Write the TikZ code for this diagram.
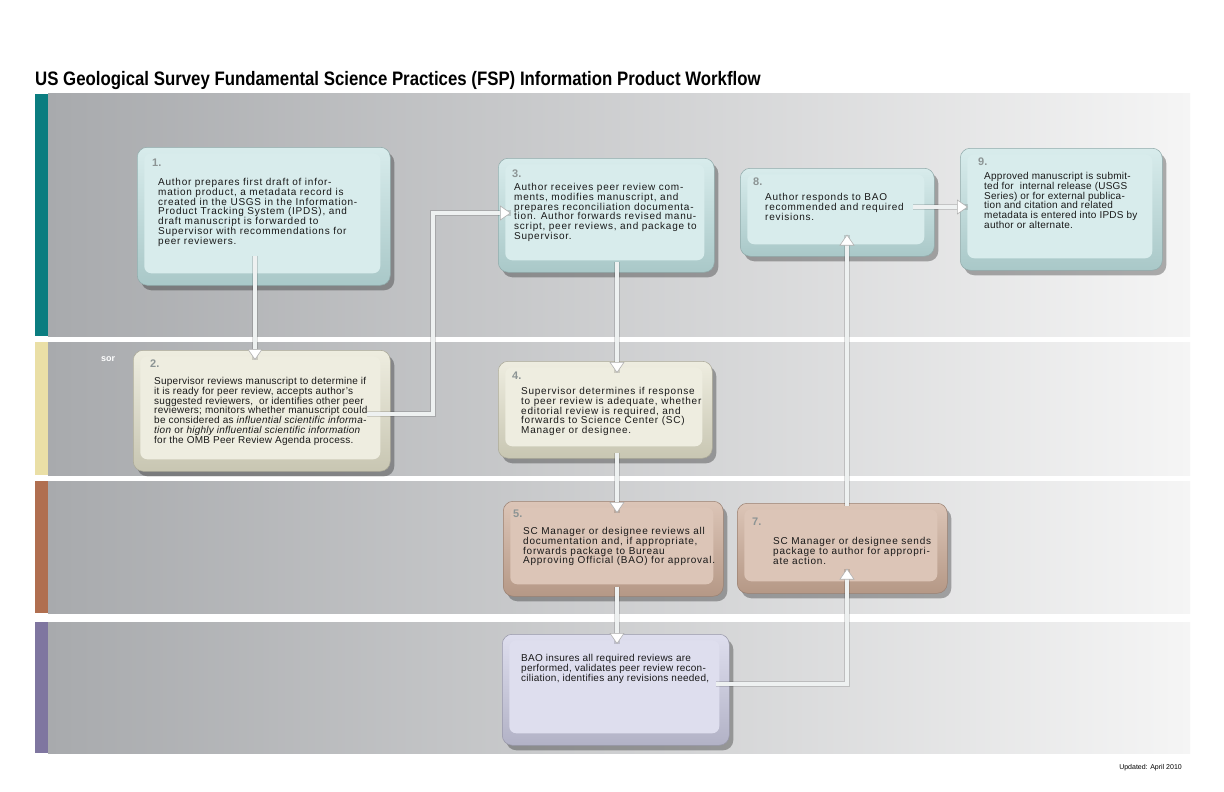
\documentclass[tikz,border=0pt]{standalone}
\usepackage{fontspec}
\setmainfont{Liberation Sans}
\newfontfamily\titlefont[FakeStretch=0.862]{Liberation Sans}
\newfontfamily\bodyfont[LetterSpace=7.5]{Liberation Sans}
\newfontfamily\bodyfontb[LetterSpace=2.5]{Liberation Sans}
\newcommand\fspbodyA{\bodyfont\fontsize{10}{9.8}\selectfont\lineskiplimit=-6pt\relax}
\newcommand\fspbodyB{\bodyfontb\fontsize{10}{9.8}\selectfont\lineskiplimit=-6pt\relax}
\usetikzlibrary{arrows.meta,shadows,calc}
\definecolor{laneL}{HTML}{A8AAAD}
\definecolor{laneM}{HTML}{CACBCE}
\definecolor{laneR}{HTML}{F5F5F5}
\definecolor{barA}{HTML}{0B7D80}
\definecolor{barB}{HTML}{EADFA6}
\definecolor{barC}{HTML}{B06F50}
\definecolor{barD}{HTML}{7F76A0}
\definecolor{aqF}{HTML}{D8ECEC}
\definecolor{aqE}{HTML}{A9C8C8}
\definecolor{crF}{HTML}{EEEDE0}
\definecolor{crE}{HTML}{C8C6B2}
\definecolor{brF}{HTML}{DCC5B7}
\definecolor{brE}{HTML}{B59886}
\definecolor{lvF}{HTML}{DEDEEE}
\definecolor{lvE}{HTML}{B2B2C6}
\definecolor{numC}{HTML}{8C9494}
\definecolor{connC}{HTML}{EEF1F1}
\tikzset{
  fspbox/.style={rectangle, rounded corners=10pt, anchor=north west, inner sep=0pt,
    top color=#1F, bottom color=#1E, draw=#1E!85!black, line width=0.5pt,
    drop shadow={shadow xshift=4pt, shadow yshift=-5pt, opacity=0.3, fill=black},
    path picture={\fill[#1F, rounded corners=7pt]
      ([shift={(7pt,-6pt)}]path picture bounding box.north west) rectangle
      ([shift={(-10pt,12pt)}]path picture bounding box.south east);}},
  numlab/.style={anchor=north west, inner sep=0pt, text=numC, font=\bfseries\fontsize{11}{12}\selectfont},
  body/.style={anchor=north west, inner sep=0pt, align=left, text=black!90, font=\fspbodyA},
  bodyb/.style={anchor=north west, inner sep=0pt, align=left, text=black!90, font=\fspbodyB},
  conn/.style={draw=connC, line width=4pt,
    -{Triangle[width=15pt,length=11pt,line width=0.6pt,color=black!30,fill=white]},
    preaction={draw=black, opacity=0.14, line width=5.6pt, -}},
}
\begin{document}
\begin{tikzpicture}[x=1pt,y=-1pt]
\useasboundingbox (0,0) rectangle (1224,792);
\fill[white] (0,0) rectangle (1224,792);
% lanes
\shade[left color=laneL, middle color=laneM, right color=laneR] (48,94) rectangle (1190,336);
\shade[left color=laneL, middle color=laneM, right color=laneR] (48,342) rectangle (1190,475);
\shade[left color=laneL, middle color=laneM, right color=laneR] (48,481) rectangle (1190,613);
\shade[left color=laneL, middle color=laneM, right color=laneR] (48,622) rectangle (1190,753);
\fill[barA] (35,94) rectangle (48,336);
\fill[barB] (35,342) rectangle (48,475);
\fill[barC] (35,481) rectangle (48,613);
\fill[barD] (35,622) rectangle (48,753);
% title
\node[anchor=base west, inner sep=0pt, font=\titlefont\bfseries\fontsize{19.5}{21}\selectfont] (title) at (35,85)
  {US Geological Survey Fundamental Science Practices (FSP) Information Product Workflow};
\node[anchor=base west, inner sep=0pt, text=white, font=\bfseries\fontsize{9}{10}\selectfont] (sor) at (101,361) {sor};
\node[anchor=base east, inner sep=0pt, font=\fontsize{7}{8}\selectfont] (upd) at (1182,769) {Updated: April 2010};
% boxes
\node[fspbox=aq, minimum width=253pt, minimum height=138pt] (b1) at (137,147) {};
\node[fspbox=cr, minimum width=257pt, minimum height=121pt] (b2) at (133,350) {};
\node[fspbox=aq, minimum width=216pt, minimum height=114pt] (b3) at (498,158) {};
\node[fspbox=cr, minimum width=214pt, minimum height=97pt] (b4) at (498,361) {};
\node[fspbox=br, minimum width=220pt, minimum height=95pt] (b5) at (503,501) {};
\node[fspbox=br, minimum width=210pt, minimum height=90pt] (b7) at (737,503) {};
\node[fspbox=lv, minimum width=227pt, minimum height=111pt] (b6) at (502,634) {};
\node[fspbox=aq, minimum width=194pt, minimum height=88pt] (b8) at (740,168) {};
\node[fspbox=aq, minimum width=202pt, minimum height=122pt] (b9) at (960,148) {};
% texts
\node[numlab] (n1) at (152,159) {1.};
\node[body] (t1) at (158,178) {Author prepares first draft of infor-\\mation product, a metadata record is\\created in the USGS in the Information-\\Product Tracking System (IPDS), and\\draft manuscript is forwarded to\\Supervisor with recommendations for\\peer reviewers.};
\node[numlab] (n2) at (150,360) {2.};
\node[bodyb] (t2) at (154,377) {Supervisor reviews manuscript to determine if\\it is ready for peer review, accepts author’s\\suggested reviewers,\ \ or identifies other peer\\reviewers; monitors whether manuscript could\\be considered as \textit{influential scientific informa-}\\\textit{tion} or \textit{highly influential scientific information}\\for the OMB Peer Review Agenda process.};
\node[numlab] (n3) at (512,170) {3.};
\node[body] (t3) at (514,183) {Author receives peer review com-\\ments, modifies manuscript, and\\prepares reconciliation documenta-\\tion. Author forwards revised manu-\\script, peer reviews, and package to\\Supervisor.};
\node[numlab] (n4) at (512,372) {4.};
\node[body] (t4) at (521,387) {Supervisor determines if response\\to peer review is adequate, whether\\editorial review is required, and\\forwards to Science Center (SC)\\Manager or designee.};
\node[numlab] (n5) at (513,510) {5.};
\node[body] (t5) at (523,527) {SC Manager or designee reviews all\\documentation and, if appropriate,\\forwards package to Bureau\\Approving Official (BAO) for approval.};
\node[numlab] (n7) at (752,518) {7.};
\node[body] (t7) at (773,537) {SC Manager or designee sends\\package to author for appropri-\\ate action.};
\node[bodyb] (t6) at (521,654) {BAO insures all required reviews are\\performed, validates peer review recon-\\ciliation, identifies any revisions needed,};
\node[numlab] (n8) at (753,178) {8.};
\node[body] (t8) at (765,193) {Author responds to BAO\\recommended and required\\revisions.};
\node[numlab] (n9) at (978,158) {9.};
\node[bodyb] (t9) at (984,172) {Approved manuscript is submit-\\ted for\ \ internal release (USGS\\Series) or for external publica-\\tion and citation and related\\metadata is entered into IPDS by\\author or alternate.};
% connectors
\draw[conn] ($(b1.south west)+(118,-30)$) -- ($(b2.north west)+(122,10)$);
\draw[conn] ($(b2.north west)+(234,64)$) -- ++(66,0) |- ($(b3.north west)+(13,55)$);
\draw[conn] ($(b3.north west)+(119,104)$) -- ($(b4.north west)+(119,12)$);
\draw[conn] ($(b4.south west)+(119,-6)$) -- ($(b5.north west)+(114,12)$);
\draw[conn] ($(b5.south west)+(114,-10)$) -- ($(b6.north west)+(115,10)$);
\draw[conn] ($(b6.north west)+(214,50)$) -| ($(b7.south west)+(110,-25)$);
\draw[conn] ($(b7.north west)+(110,3)$) -- ($(b8.south west)+(107,-22)$);
\draw[conn] ($(b8.north west)+(173,39)$) -- ($(b9.north west)+(8,59)$);
\end{tikzpicture}
\end{document}
